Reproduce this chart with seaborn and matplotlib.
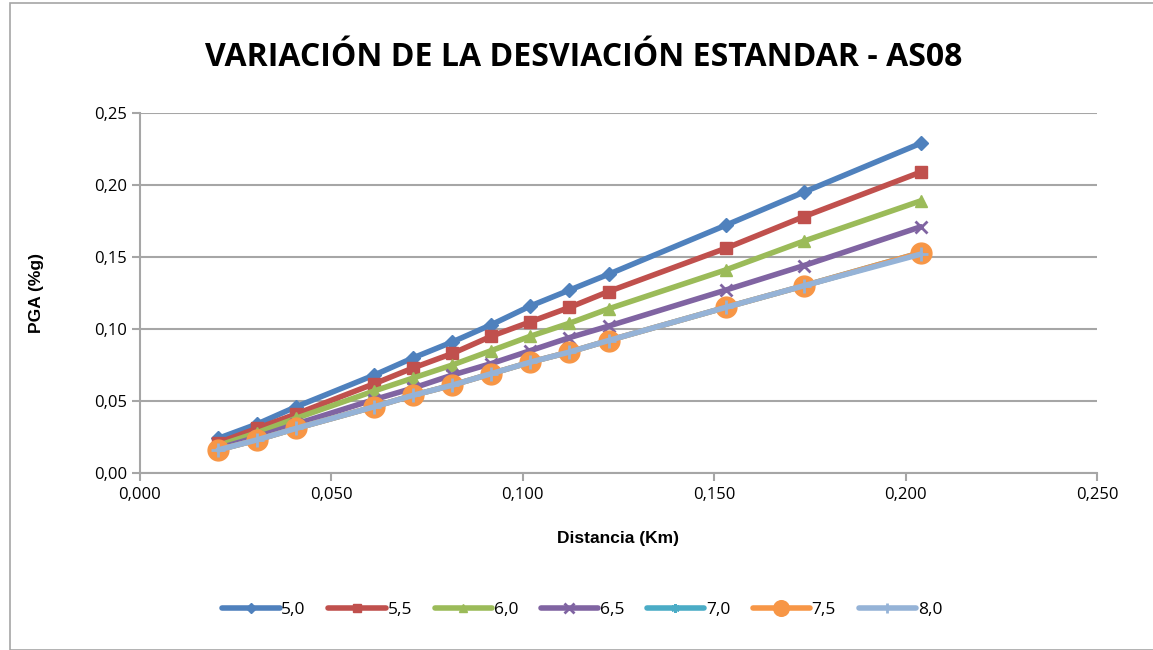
import matplotlib
matplotlib.use("Agg")
import matplotlib.pyplot as plt
from matplotlib.ticker import FuncFormatter, MultipleLocator
from matplotlib.patches import Rectangle
import seaborn as sns
import pandas as pd

# Data
distancia = [0.0204, 0.0306, 0.0408, 0.0612, 0.0714, 0.0816, 0.0918,
             0.1020, 0.1122, 0.1224, 0.1530, 0.1734, 0.2040]
pga_50 = [0.024, 0.034, 0.046, 0.068, 0.080, 0.091, 0.103, 0.116, 0.127, 0.138, 0.172, 0.195, 0.229]
pga_55 = [0.021, 0.031, 0.041, 0.062, 0.073, 0.083, 0.095, 0.105, 0.115, 0.126, 0.156, 0.178, 0.209]
pga_60 = [0.019, 0.028, 0.038, 0.057, 0.066, 0.075, 0.085, 0.095, 0.104, 0.114, 0.141, 0.161, 0.189]
pga_65 = [0.017, 0.025, 0.034, 0.051, 0.059, 0.068, 0.076, 0.085, 0.094, 0.102, 0.127, 0.144, 0.171]
pga_70 = [0.016, 0.023, 0.031, 0.046, 0.054, 0.061, 0.069, 0.077, 0.084, 0.092, 0.115, 0.130, 0.153]
pga_75 = [0.016, 0.023, 0.031, 0.046, 0.054, 0.061, 0.069, 0.077, 0.084, 0.092, 0.115, 0.130, 0.153]
pga_80 = [0.016, 0.023, 0.031, 0.046, 0.054, 0.061, 0.069, 0.077, 0.084, 0.092, 0.115, 0.130, 0.152]

magnitudes = ["5,0", "5,5", "6,0", "6,5", "7,0", "7,5", "8,0"]
series = [pga_50, pga_55, pga_60, pga_65, pga_70, pga_75, pga_80]
colors = ["#4F81BD", "#C0504D", "#9BBB59", "#8064A2", "#4BACC6", "#F79646", "#95B3D7"]
markers = ["D", "s", "^", "x", (6, 2, 0), "o", "+"]
msizes = [7, 8, 8, 9, 8, 15, 10]

rows = []
for mag, vals in zip(magnitudes, series):
    for d, v in zip(distancia, vals):
        rows.append({"Distancia": d, "PGA": v, "Mag": mag})
df = pd.DataFrame(rows)

sns.set_style("white")
plt.rcParams["font.family"] = ["Open Sans", "DejaVu Sans"]
plt.rcParams["text.color"] = "black"
plt.rcParams["axes.labelcolor"] = "black"

fig = plt.figure(figsize=(11.53, 6.5), dpi=100)
ax = fig.add_axes([0.1214, 0.2723, 0.83, 0.5539])

for mag, c, m, ms in zip(magnitudes, colors, markers, msizes):
    sub = df[df["Mag"] == mag]
    sns.lineplot(data=sub, x="Distancia", y="PGA", ax=ax, color=c, marker=m,
                 markersize=ms, linewidth=4, markeredgecolor=c,
                 markeredgewidth=2 if m in ("x", "+") or isinstance(m, tuple) else 1,
                 label=mag, sort=False)

ax.set_xlim(0, 0.25)
ax.set_ylim(0, 0.25)
ax.xaxis.set_major_locator(MultipleLocator(0.05))
ax.yaxis.set_major_locator(MultipleLocator(0.05))
ax.xaxis.set_major_formatter(FuncFormatter(lambda v, p: f"{v:.3f}".replace(".", ",")))
ax.yaxis.set_major_formatter(FuncFormatter(lambda v, p: f"{v:.2f}".replace(".", ",")))
ax.grid(axis="y", color="#A6A6A6", linewidth=1.5)
ax.set_axisbelow(True)
for s in ["top", "right"]:
    ax.spines[s].set_visible(False)
for s in ["left", "bottom"]:
    ax.spines[s].set_color("#A6A6A6")
    ax.spines[s].set_linewidth(1.5)
ax.tick_params(axis="both", direction="out", length=6, width=1.5, color="#A6A6A6",
               labelsize=12, labelcolor="black", bottom=True, left=True)
ax.tick_params(axis="x", pad=4)

ax.set_xlabel("Distancia (Km)", fontsize=12.5, fontweight="bold",
              family=["Liberation Sans", "DejaVu Sans"], labelpad=20)
ax.set_ylabel("PGA (%g)", fontsize=12.5, fontweight="bold",
              family=["Liberation Sans", "DejaVu Sans"], labelpad=36)

fig.text(0.506, 0.912, "VARIACIÓN DE LA DESVIACIÓN ESTANDAR - AS08", ha="center", va="center",
         fontsize=23, fontweight="bold")

handles, labels = ax.get_legend_handles_labels()
ax.legend(handles, labels, loc="center", bbox_to_anchor=(0.505, 0.062),
          bbox_transform=fig.transFigure, ncol=7, frameon=False, fontsize=12.5,
          handlelength=3.3, handletextpad=0.1, columnspacing=1.3, markerscale=0.75)

fig.add_artist(Rectangle((10 / 1153, 0.0), 1.2, 1 - 3 / 650, transform=fig.transFigure,
                         fill=False, edgecolor="#A6A6A6", linewidth=1.2))

fig.savefig("out.png", dpi=100)
